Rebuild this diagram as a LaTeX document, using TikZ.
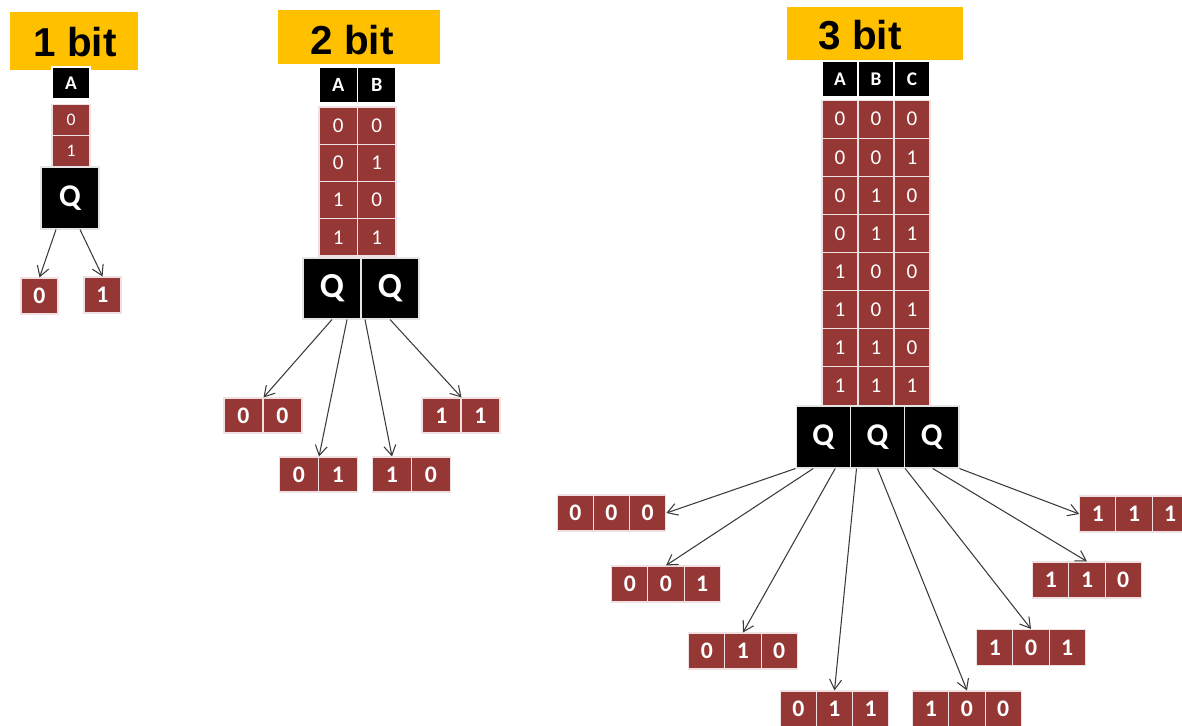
\documentclass[tikz,border=0pt]{standalone}
\usepackage{fontspec}
\setmainfont{Carlito}
\newfontfamily\titlefont{Liberation Sans}
\usetikzlibrary{arrows.meta}

\definecolor{cellred}{HTML}{953735}
\definecolor{marker}{HTML}{FFC000}
\definecolor{wire}{HTML}{3A3A3A}

\tikzset{
  boxsize/.style 2 args={minimum width=#1*0.2mm, minimum height=#2*0.2mm},
  bit/.style={fill=cellred, draw=white!85!cellred, line width=0.6pt, text=white, inner sep=0pt},
  digit/.style={bit, font=\fontsize{12}{14}\selectfont},
  result/.style={bit, font=\bfseries\fontsize{13.5}{15}\selectfont},
  head/.style={fill=black, draw=white, line width=0.6pt, text=white, inner sep=0pt, font=\bfseries\fontsize{11}{13}\selectfont},
  gate/.style={fill=black, draw=white!90!black, line width=0.6pt, text=white, inner sep=0pt, font=\bfseries\fontsize{18}{20}\selectfont},
  title/.style={text=black, inner sep=0pt, font=\titlefont\bfseries\fontsize{23}{26}\selectfont},
  link/.style={->, draw=wire, line width=0.6pt}
}

\begin{document}
\begin{tikzpicture}[>={Straight Barb[length=2mm,width=2.4mm]}, x=0.2mm, y=-0.2mm]
\useasboundingbox (0,0) rectangle (1182,726);

% titles
\fill[marker] (10,12) rectangle (138,70);
\fill[marker] (278,10) rectangle (440,64);
\fill[marker] (787,7) rectangle (963,60);
\node[title] (t1) at (75,42) {1 bit};
\node[title] (t2) at (352,40) {2 bit};
\node[title] (t3) at (860,35) {3 bit};

% 1 bit
\node[head, boxsize={38}{32}] (h1-1) at (71,83) {A};
\node[digit, boxsize={38}{31}, font=\fontsize{10}{12}\selectfont] (c1-1) at (71,120) {0};
\node[digit, boxsize={38}{31}, font=\fontsize{10}{12}\selectfont] (c1-2) at (71,151) {1};
\node[gate, boxsize={58}{62}] (q1) at (70,198) {Q};
\node[result, boxsize={37}{36}] (o1-0) at (39.5,296) {0};
\node[result, boxsize={37}{36}] (o1-1) at (102.5,295) {1};

\draw[link] ([shift={(-14,0)}]q1.south) -- (o1-0.north);
\draw[link] ([shift={(10,0)}]q1.south) -- (o1-1.north);

% 2 bit
\node[head, boxsize={38.5}{36}, font=\bfseries\fontsize{11.5}{13}\selectfont] (h2-1) at (338.25,85) {A};
\node[head, boxsize={38.5}{36}, font=\bfseries\fontsize{11.5}{13}\selectfont] (h2-2) at (376.75,85) {B};
\foreach \a/\b [count=\r] in {0/0,0/1,1/0,1/1} {
  \node[digit, boxsize={38.5}{37.25}] (c2-\r-1) at (338.25,88.4+37.25*\r) {\a};
  \node[digit, boxsize={38.5}{37.25}] (c2-\r-2) at (376.75,88.4+37.25*\r) {\b};
}
\node[gate, boxsize={58}{61}, font=\bfseries\fontsize{20}{22}\selectfont] (q2-1) at (332,288.5) {Q};
\node[gate, boxsize={58}{61}, font=\bfseries\fontsize{20}{22}\selectfont] (q2-2) at (390,288.5) {Q};
\foreach \a/\b/\x/\y in {0/0/243.5/415.5, 0/1/299/474.5, 1/0/392/474.5, 1/1/441.5/415.5} {
  \node[result, boxsize={39}{35}] (o2-\a\b-1) at (\x,\y) {\a};
  \node[result, boxsize={39}{35}] (o2-\a\b-2) at (\x+39,\y) {\b};
}

\draw[link] (q2-1.south) -- (o2-00-1.north east);
\draw[link] ([shift={(15,0)}]q2-1.south) -- (o2-01-1.north east);
\draw[link] ([shift={(-25,0)}]q2-2.south) -- (o2-10-1.north);
\draw[link] (q2-2.south) -- (o2-11-1.north east);

% 3 bit
\node[head, boxsize={36}{36}] (h3-1) at (840,79) {A};
\node[head, boxsize={36}{36}] (h3-2) at (876,79) {B};
\node[head, boxsize={36}{36}] (h3-3) at (912,79) {C};
\foreach \a/\b/\c [count=\r] in {0/0/0,0/0/1,0/1/0,0/1/1,1/0/0,1/0/1,1/1/0,1/1/1} {
  \node[digit, boxsize={36}{38.1}] (c3-\r-1) at (840,81+38.125*\r) {\a};
  \node[digit, boxsize={36}{38.1}] (c3-\r-2) at (876,81+38.125*\r) {\b};
  \node[digit, boxsize={36}{38.1}] (c3-\r-3) at (912,81+38.125*\r) {\c};
}
\node[gate, boxsize={54.33}{62}] (q3-1) at (823.2,437) {Q};
\node[gate, boxsize={54.33}{62}] (q3-2) at (877.5,437) {Q};
\node[gate, boxsize={54.33}{62}] (q3-3) at (931.8,437) {Q};
\foreach \a/\b/\c/\x/\y in {0/0/0/611.5/513, 0/0/1/666/584, 0/1/0/743/651, 0/1/1/834.5/709,
                          1/0/0/967/709, 1/0/1/1031/647.5, 1/1/0/1087/580, 1/1/1/1134/514} {
  \node[result, boxsize={36.2}{36}] (o3-\a\b\c-1) at (\x-36.2,\y) {\a};
  \node[result, boxsize={36.2}{36}] (o3-\a\b\c-2) at (\x,\y) {\b};
  \node[result, boxsize={36.2}{36}] (o3-\a\b\c-3) at (\x+36.2,\y) {\c};
}

\draw[link] (q3-1.south west) -- (o3-000-3.east);
\draw[link] ([shift={(-10,0)}]q3-1.south) -- (o3-001-2.north);
\draw[link] ([shift={(12,0)}]q3-1.south) -- (o3-010-2.north);
\draw[link] ([shift={(-21,0)}]q3-2.south) -- (o3-011-2.north);
\draw[link] (q3-2.south) -- (o3-100-2.north);
\draw[link] (q3-2.south east) -- (o3-101-2.north);
\draw[link] ([shift={(1,0)}]q3-3.south) -- (o3-110-2.north);
\draw[link] (q3-3.south east) -- (o3-111-1.west);
\end{tikzpicture}
\end{document}
